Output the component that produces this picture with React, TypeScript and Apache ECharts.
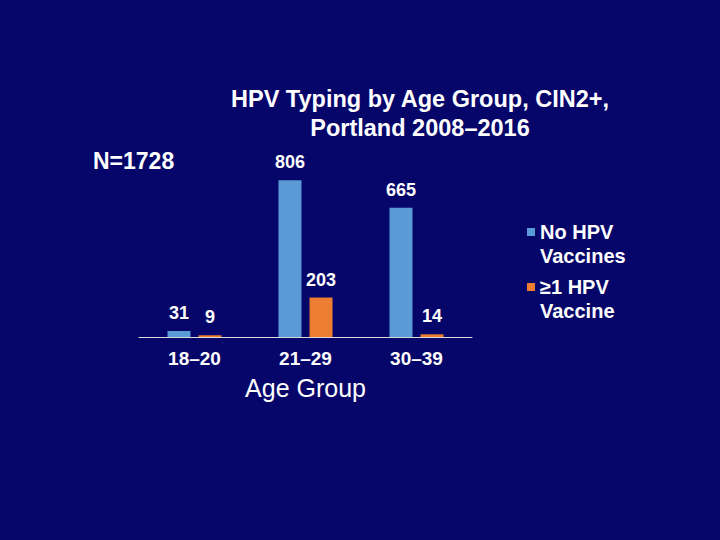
import React, { useEffect, useRef } from "react";
import * as echarts from "echarts";

const categories = ["18–20", "21–29", "30–39"];
const noVaccine = [31, 806, 665];
const oneVaccine = [9, 203, 14];
const seriesNames = ["No HPV\nVaccines", "≥1 HPV\nVaccine"];
const titleText = "HPV Typing by Age Group, CIN2+,\nPortland 2008–2016";
const noteText = "N=1728";
const axisName = "Age Group";

const BG = "#06066A";
const FONT = "Arial, 'Liberation Sans', Helvetica, sans-serif";

export default function App() {
  const ref = useRef<HTMLDivElement>(null);
  useEffect(() => {
    document.body.style.margin = "0";
    if (!ref.current) return;
    const chart = echarts.init(ref.current, null, { renderer: "svg" });
    const label = {
      show: true,
      position: "top",
      distance: 9,
      color: "#FFFFFF",
      fontFamily: FONT,
      fontWeight: "bold",
      fontSize: 18,
    };
    chart.setOption({
      animation: false,
      backgroundColor: BG,
      graphic: [
        {
          type: "text",
          x: 420,
          y: 84,
          style: {
            text: titleText,
            align: "center",
            verticalAlign: "top",
            fill: "#FFFFFF",
            fontFamily: FONT,
            fontWeight: "bold",
            fontSize: 23.5,
            lineHeight: 29,
          },
        },
        {
          type: "text",
          x: 93,
          y: 149,
          style: {
            text: noteText,
            fill: "#FFFFFF",
            fontFamily: FONT,
            fontWeight: "bold",
            fontSize: 23,
            verticalAlign: "top",
          },
        },
      ],
      legend: {
        orient: "vertical",
        left: 522,
        top: 215,
        itemGap: 7,
        itemWidth: 8,
        itemHeight: 32,
        icon: "path://M0,0H8V8H0Z M0,31.99H0.01V32H0Z",
        selectedMode: false,
        textStyle: {
          color: "#FFFFFF",
          fontFamily: FONT,
          fontWeight: "bold",
          fontSize: 20,
          lineHeight: 24,
        },
        data: seriesNames,
      },
      grid: { left: 139, width: 333, top: 162, height: 175, containLabel: false },
      xAxis: {
        type: "category",
        data: categories,
        axisTick: { show: false },
        axisLine: { lineStyle: { color: "#D9D9D9", width: 1 } },
        axisLabel: {
          color: "#FFFFFF",
          fontFamily: FONT,
          fontWeight: "bold",
          fontSize: 19,
          margin: 12,
        },
        name: axisName,
        nameLocation: "middle",
        nameGap: 38,
        nameTextStyle: {
          color: "#FFFFFF",
          fontFamily: FONT,
          fontSize: 25,
        },
      },
      yAxis: {
        type: "value",
        min: 0,
        max: 900,
        show: false,
        splitLine: { show: false },
      },
      series: [
        {
          name: seriesNames[0],
          type: "bar",
          data: noVaccine,
          barWidth: 23,
          barGap: "35%",
          itemStyle: { color: "#5B9BD5" },
          label,
        },
        {
          name: seriesNames[1],
          type: "bar",
          data: oneVaccine,
          barWidth: 23,
          barGap: "35%",
          itemStyle: { color: "#ED7D31" },
          label,
        },
      ],
    });
    return () => chart.dispose();
  }, []);
  return <div ref={ref} style={{ width: 720, height: 540 }} />;
}
